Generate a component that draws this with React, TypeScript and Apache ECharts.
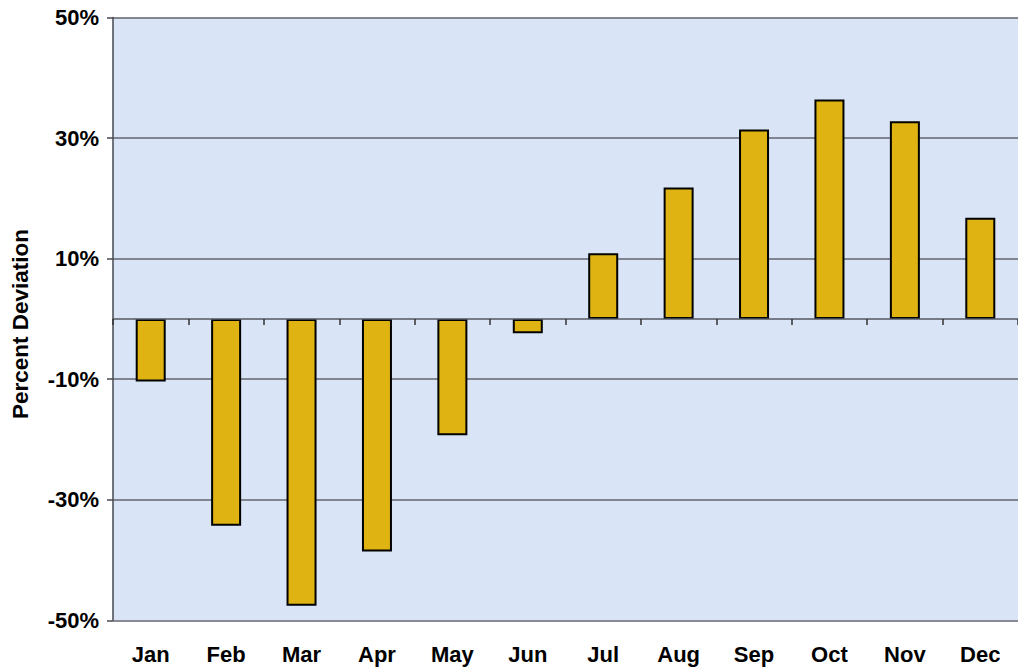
import React, { useEffect, useRef } from "react";
import * as echarts from "echarts";

const months: string[] = ["Jan", "Feb", "Mar", "Apr", "May", "Jun", "Jul", "Aug", "Sep", "Oct", "Nov", "Dec"];
const deviation: number[] = [-10.4, -34.3, -47.6, -38.6, -19.3, -2.4, 10.9, 21.8, 31.4, 36.4, 32.8, 16.8];
const yTicks: number[] = [-50, -30, -10, 10, 30, 50];
const axisTitle = "Percent Deviation";

const FONT = "'Liberation Sans', Arial, sans-serif";
const LINE = "#62666e";

const App: React.FC = () => {
  const chartRef = useRef<HTMLDivElement>(null);

  useEffect(() => {
    const dom = chartRef.current;
    if (!dom) return;
    const chart = echarts.init(dom, undefined, { renderer: "svg" });

    const option: echarts.EChartsOption = {
      animation: false,
      textStyle: { fontFamily: FONT },
      grid: {
        left: 113,
        right: -6,
        top: 17.5,
        bottom: 48.7,
        show: true,
        backgroundColor: "#dae4f7",
        borderWidth: 0,
      },
      graphic: [
        {
          type: "text",
          x: 20,
          y: 324,
          rotation: Math.PI / 2,
          style: {
            text: axisTitle,
            font: `bold 22.5px ${FONT}`,
            fill: "#000",
            align: "center",
            verticalAlign: "middle",
          },
        },
      ],
      xAxis: [
        {
          type: "category",
          data: months,
          axisLine: { onZero: true, lineStyle: { color: "#555a62", width: 1.5 } },
          axisTick: { show: true, length: 6, lineStyle: { color: "#333", width: 1.5 } },
          axisLabel: { show: false },
          splitLine: { show: false },
          z: 5,
        },
        {
          type: "category",
          data: months,
          position: "bottom",
          axisLine: { show: false, onZero: false },
          axisTick: { show: false },
          axisLabel: {
            margin: 23,
            fontSize: 22,
            fontWeight: "bold",
            color: "#000",
            fontFamily: FONT,
          },
          splitLine: { show: false },
        },
      ],
      yAxis: {
        type: "value",
        min: yTicks[0],
        max: yTicks[yTicks.length - 1],
        interval: 20,
        axisLine: { show: true, lineStyle: { color: "#444850", width: 1.5 } },
        axisTick: { show: true, length: 6, lineStyle: { color: "#444850", width: 1.5 } },
        axisLabel: {
          margin: 14,
          fontSize: 22,
          fontWeight: "bold",
          color: "#000",
          fontFamily: FONT,
          formatter: (v: number) => `${v}%`,
        },
        splitLine: { show: true, lineStyle: { color: LINE, width: 1.5 } },
      },
      series: [
        {
          type: "bar",
          xAxisIndex: 0,
          data: deviation,
          barWidth: 30,
          itemStyle: {
            color: "#dfb312",
            borderColor: "#000",
            borderWidth: 2,
          },
        },
      ],
    };

    chart.setOption(option);
    return () => chart.dispose();
  }, []);

  return (
    <div
      ref={chartRef}
      style={{ position: "absolute", left: 0, top: 0, width: "1018px", height: "669px", background: "#fff" }}
    />
  );
};

export default App;
